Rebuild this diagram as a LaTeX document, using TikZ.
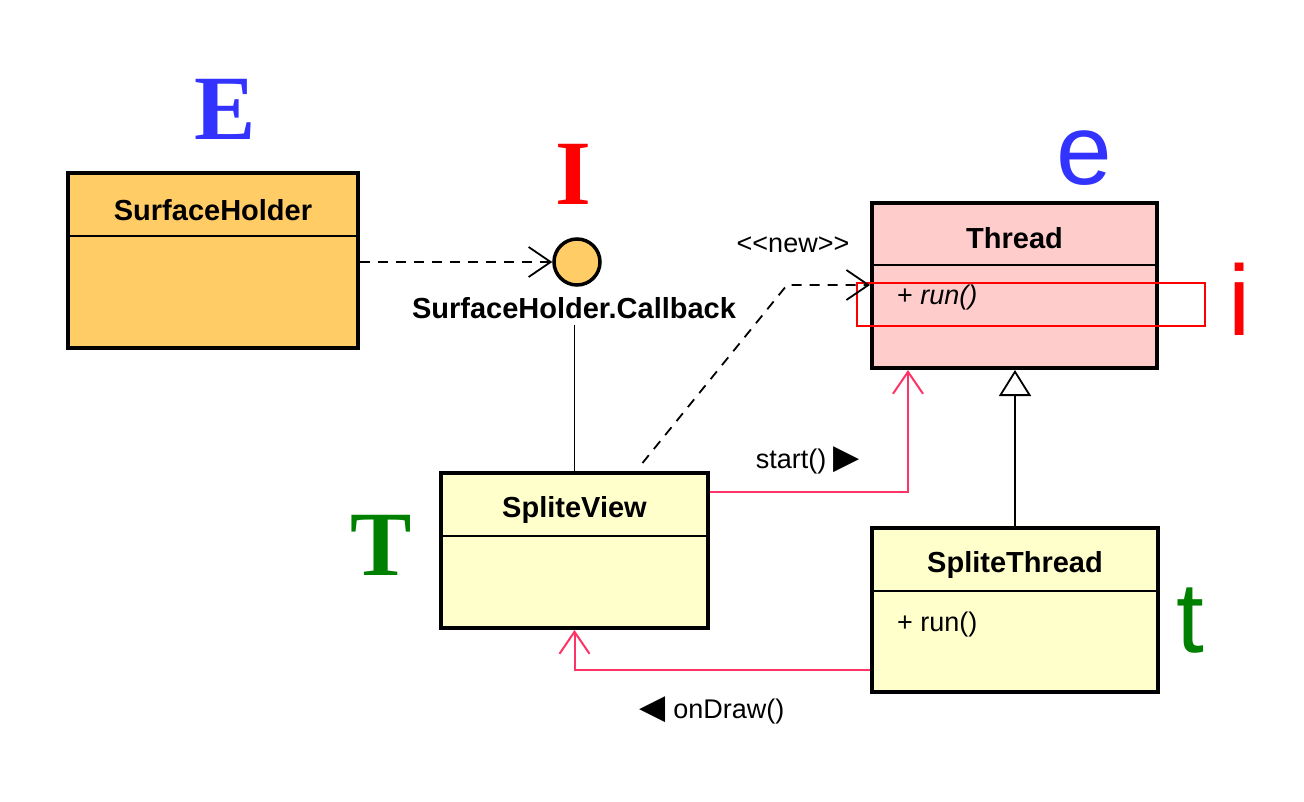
\documentclass[tikz,border=0pt]{standalone}
\usepackage{fontspec}
\setmainfont{Liberation Sans}
\newfontfamily\umlfont{Liberation Sans}
\newfontfamily\markfont{Liberation Serif}
\newfontfamily\symfont{DejaVu Sans}
\usetikzlibrary{arrows.meta}
\definecolor{holderfill}{HTML}{FFCC66}
\definecolor{threadfill}{HTML}{FFCCCC}
\definecolor{viewfill}{HTML}{FFFFCC}
\definecolor{callpink}{HTML}{FF3366}
\definecolor{markblue}{HTML}{3333FF}
\definecolor{markgreen}{HTML}{008000}

\begin{document}
\begin{tikzpicture}[x=1pt, y=-1pt]
	\useasboundingbox (0,0) rectangle (1304,802);
	\tikzstyle{cls}=[rectangle, draw=black, line width=4pt, inner sep=0pt]
	\tikzstyle{title}=[inner sep=0pt, font=\umlfont\fontsize{29}{32}\selectfont\bfseries]
	\tikzstyle{member}=[inner sep=0pt, anchor=west, font=\umlfont\fontsize{27}{30}\selectfont]
	\tikzstyle{msg}=[inner sep=0pt, font=\umlfont\fontsize{27}{30}\selectfont]
	\tikzstyle{bigserif}=[inner sep=0pt, anchor=base, font=\markfont\fontsize{92}{100}\selectfont\bfseries]
	\tikzstyle{bigsans}=[inner sep=0pt, anchor=base, font=\umlfont\fontsize{100}{110}\selectfont]
	\tikzstyle{dep}=[line width=1.8pt, dash pattern=on 10pt off 8pt, -{Straight Barb[length=22pt, width=30pt, line width=1.8pt]}]
	\tikzstyle{call}=[line width=2pt, color=callpink, -{Straight Barb[length=22pt, width=30pt, line width=2pt]}]

	% classes
	\node[cls, fill=holderfill, minimum width=290pt, minimum height=175pt] (holder) at (213,260.5) {};
	\node[cls, fill=threadfill, minimum width=285pt, minimum height=165pt] (thread) at (1014.5,285.5) {};
	\node[cls, fill=viewfill, minimum width=267pt, minimum height=155pt] (view) at (574.5,550.5) {};
	\node[cls, fill=viewfill, minimum width=286pt, minimum height=164pt] (splite) at (1015,610) {};
	\draw[line width=1.8pt] (holder.west |- 0,236) -- (holder.east |- 0,236);
	\draw[line width=1.8pt] (thread.west |- 0,265) -- (thread.east |- 0,265);
	\draw[line width=1.8pt] (view.west |- 0,536) -- (view.east |- 0,536);
	\draw[line width=1.8pt] (splite.west |- 0,591) -- (splite.east |- 0,591);

	\node[title] (holdername) at (213,210) {SurfaceHolder};
	\node[title] (threadname) at (1014.5,238) {Thread};
	\node[title] (viewname) at (574.5,510) {SpliteView};
	\node[title] (splitename) at (1015,565) {SpliteThread};
	\node[member] (threadrun) at (897,298) {+ \itshape run()};
	\node[member] (spliterun) at (897,625) {+ run()};

	% interface
	\node[circle, draw=black, line width=3.5pt, fill=holderfill, minimum size=46pt, inner sep=0pt] (cb) at (577,262) {};
	\node[title] (cbname) at (574,308) {SurfaceHolder.Callback};

	% highlight
	\draw[red, line width=1.2pt] (857,283) rectangle (1205,326);

	% marks
	\node[bigserif, color=markblue] (bigE) at (225,140) {E};
	\node[bigserif, color=red] (bigI) at (573,205) {I};
	\node[bigserif, color=markgreen] (bigT) at (381,575) {T};
	\node[bigsans, color=markblue] (smalle) at (1084,185) {e};
	\node[bigsans, color=red] (smalli) at (1240,335) {i};
	\node[bigsans, color=markgreen] (smallt) at (1190,652) {t};

	% connectors
	\coordinate (newbend) at (787,285);
	\draw[dep] (holder.east |- cb) -- (cb.west);
	\draw[line width=1.8pt] (view.north |- cbname.south) ++(0,-6pt) -- (view.north);
	\draw[dep] ([xshift=68pt,yshift=8pt]view.north) -- (newbend) -- (thread.west |- newbend);
	\node[msg] (newlabel) at (793,245) {<{}<new>{}>};
	\draw[line width=1.8pt, -{Triangle[open, length=26pt, width=32pt, line width=1.8pt]}] (splite.north) -- (splite.north |- thread.south);
	\begin{scope}[call]
		\draw ([yshift=58.5pt]view.east) -| ([xshift=-106.5pt]thread.south);
		\draw ([yshift=-60pt]splite.west) -| (view.south);
	\end{scope}
	\node[msg] (startlabel) at (808,460) {start() {\symfont\fontsize{34}{34}\selectfont ▶}};
	\node[msg] (drawlabel) at (712,710) {{\symfont\fontsize{34}{34}\selectfont ◀} onDraw()};
\end{tikzpicture}
\end{document}
